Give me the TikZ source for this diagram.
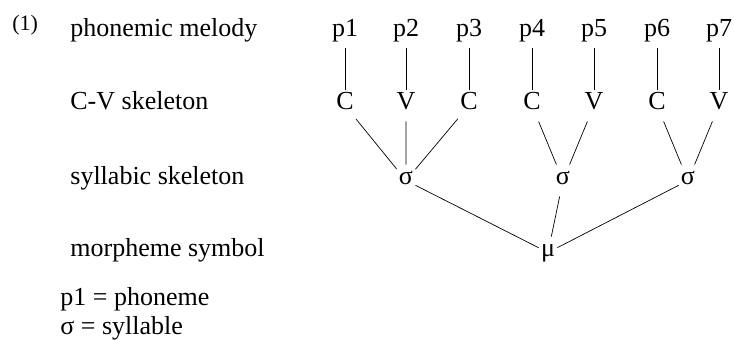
\documentclass[tikz,border=0pt]{standalone}
\usepackage{fontspec}
\setmainfont{Liberation Serif}
\tikzset{
  seg/.style={anchor=base,inner xsep=1pt,inner ysep=3pt,text height=0.7em,text depth=0.25em},
  tier/.style={anchor=base west,inner sep=0pt},
  link/.style={line width=0.35pt}
}
\begin{document}
\begin{tikzpicture}[x=0.5pt,y=-0.5pt,font=\fontsize{13}{15}\selectfont]
\useasboundingbox (0,0) rectangle (734,340);
\node[tier,font=\fontsize{11}{13}\selectfont] at (12,31) (exno) {(1)};
\node[tier] at (70,37) (melody) {phonemic melody};
\node[tier] at (70,110) (cvskel) {C-V skeleton};
\node[tier] at (70,185) (sylskel) {syllabic skeleton};
\node[tier] at (70,257) (morph) {morpheme symbol};
\node[tier] at (60,306) (keyp) {p1 = phoneme};
\node[tier] at (60,335) (keys) {σ = syllable};
\node[seg] at (345,37) (p1) {p1};
\node[seg] at (406,37) (p2) {p2};
\node[seg] at (469,37) (p3) {p3};
\node[seg] at (532,37) (p4) {p4};
\node[seg] at (594,37) (p5) {p5};
\node[seg] at (657,37) (p6) {p6};
\node[seg] at (719,37) (p7) {p7};
\node[seg] at (345,110) (c1) {C};
\node[seg] at (406,110) (v2) {V};
\node[seg] at (469,110) (c3) {C};
\node[seg] at (532,110) (c4) {C};
\node[seg] at (594,110) (v5) {V};
\node[seg] at (657,110) (c6) {C};
\node[seg] at (719,110) (v7) {V};
\node[seg] at (406,185) (syl1) {σ};
\node[seg] at (563,185) (syl2) {σ};
\node[seg] at (688,185) (syl3) {σ};
\node[seg] at (548,257) (mu) {μ};
\draw[link] (p1) to (c1) (p2) to (v2) (p3) to (c3) (p4) to (c4);
\draw[link] (p5) to (v5) (p6) to (c6) (p7) to (v7);
\draw[link] (c1) to (syl1) (v2) to (syl1) (c3) to (syl1);
\draw[link] (c4) to (syl2) (v5) to (syl2);
\draw[link] (c6) to (syl3) (v7) to (syl3);
\draw[link] (syl1) to (mu) (syl2) to (mu) (syl3) to (mu);
\end{tikzpicture}
\end{document}
